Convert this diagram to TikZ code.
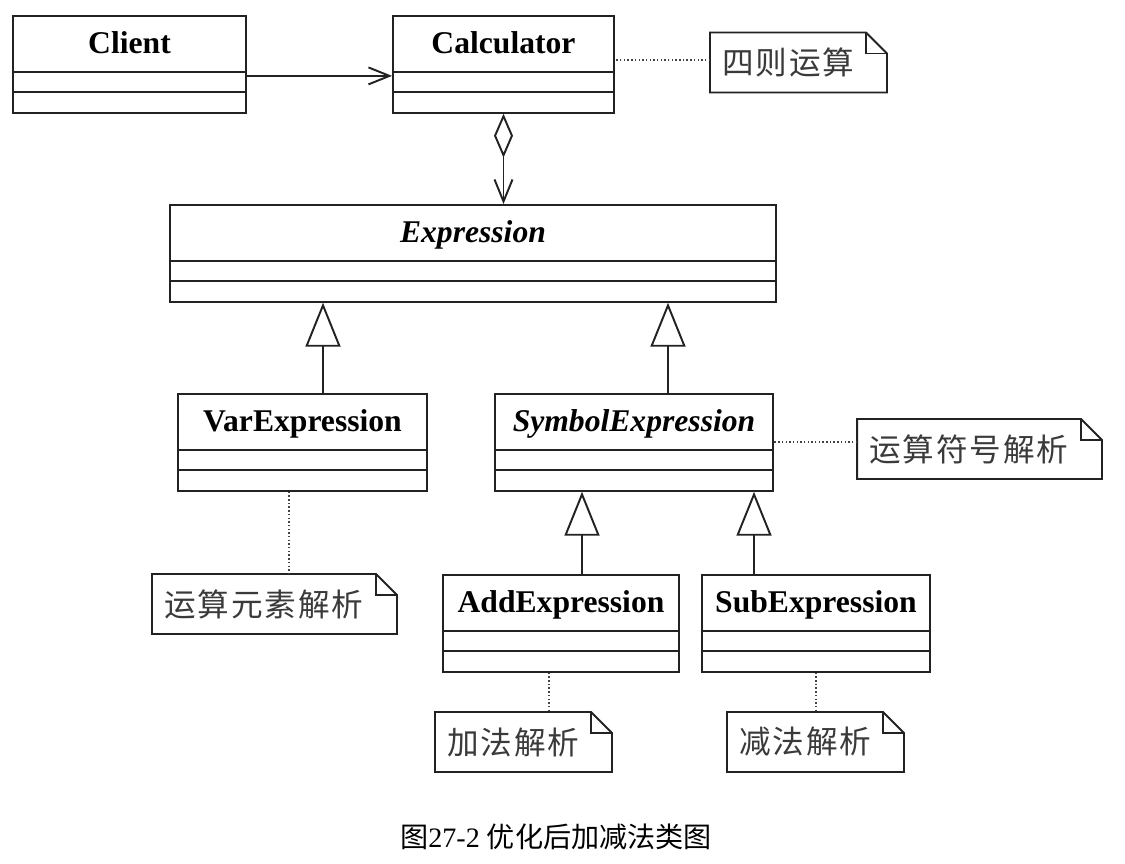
\documentclass[tikz,border=0pt]{standalone}
\usepackage{fontspec}
\setmainfont{Liberation Serif}
\newfontfamily\cjk{Noto Sans CJK SC}
\newfontfamily\notefont[LetterSpace=6]{Noto Sans CJK SC}
\usetikzlibrary{arrows.meta,shapes.multipart}
\definecolor{inkline}{HTML}{222222}
\definecolor{notetext}{HTML}{3A3A3A}
% name compartment, then the two empty compartments
\newcommand{\umlbody}[1]{\rule[-0.34cm]{0pt}{1.08cm}#1\nodepart{two}\rule{0pt}{0.36cm}\nodepart{three}\rule{0pt}{0.38cm}}
\tikzset{
  umlclass/.style={draw=inkline, line width=1.1pt, rectangle split, rectangle split parts=3,
    inner xsep=0pt, inner ysep=0pt, anchor=north, text=black,
    font=\fontsize{18}{20}\selectfont\bfseries},
  abstract/.style={font=\fontsize{18}{20}\selectfont\bfseries\itshape},
  umlnote/.style={inner xsep=0.24cm, inner ysep=0pt, outer sep=0pt, minimum height=1.2cm,
    align=left, text=notetext, font=\notefont\fontsize{18}{20}\selectfont},
  noteedge/.style={draw=inkline, line width=1.1pt, line join=miter},
  noteline/.style={draw=inkline!85, line width=0.7pt, dash pattern=on 0.8pt off 1.3pt},
  assoc/.style={draw=inkline, line width=1.1pt, -{Straight Barb[length=0.42cm,width=0.34cm]}},
  aggr/.style={draw=inkline, line width=1.1pt,
    {Diamond[open,length=0.88cm,width=0.38cm]}-{Straight Barb[length=0.44cm,width=0.36cm]}},
  inherit/.style={draw=inkline, line width=1.1pt, -{Triangle[open,length=0.88cm,width=0.7cm]}},
  caption/.style={font=\fontsize{16}{18}\selectfont, text=black}
}
\begin{document}
\begin{tikzpicture}[x=0.02cm, y=-0.02cm]
  \useasboundingbox (0,0) rectangle (1125,863);

  % classes
  \node[umlclass, minimum width=4.66cm] (client) at (129.5,15) {\umlbody{Client}};
  \node[umlclass, minimum width=4.42cm] (calc) at (503.5,15) {\umlbody{Calculator}};
  \node[umlclass, abstract, minimum width=12.14cm] (expr) at (473,204) {\umlbody{Expression}};
  \node[umlclass, minimum width=4.98cm] (var) at (302.5,393) {\umlbody{VarExpression}};
  \node[umlclass, abstract, minimum width=5.56cm] (sym) at (634,393) {\umlbody{SymbolExpression}};
  \node[umlclass, minimum width=4.72cm] (add) at (561,574) {\umlbody{AddExpression}};
  \node[umlclass, minimum width=4.56cm] (sub) at (816,574) {\umlbody{SubExpression}};

  % notes
  \node[umlnote, text width=3.06cm] (calcnote) at (798.5,62.5) {四则运算};
  \node[umlnote, text width=4.42cm] (symnote) at (979.5,449) {运算符号解析};
  \node[umlnote, text width=4.42cm] (varnote) at (274.5,604) {运算元素解析};
  \node[umlnote, text width=3.06cm] (addnote) at (523.5,742) {加法解析};
  \node[umlnote, text width=3.06cm] (subnote) at (815.5,742) {减法解析};
  \foreach \n in {calcnote,symnote,varnote,addnote,subnote}{
    \draw[noteedge] (\n.north west) -- ([xshift=-0.42cm]\n.north east)
      -- ([yshift=-0.42cm]\n.north east) -- (\n.south east) -- (\n.south west) -- cycle;
    \draw[noteedge] ([xshift=-0.42cm]\n.north east) |- ([yshift=-0.42cm]\n.north east);
  }

  % relations
  \draw[assoc] ([yshift=-0.08cm]client.text split east) -- ([yshift=-0.08cm]calc.text split west);
  \draw[aggr] (calc.south) -- (calc.south |- expr.north);
  \draw[inherit] ([xshift=0.41cm]var.north) -- ([xshift=0.41cm]var.north |- expr.south);
  \draw[inherit] ([xshift=0.68cm]sym.north) -- ([xshift=0.68cm]sym.north |- expr.south);
  \draw[inherit] ([xshift=0.42cm]add.north) -- ([xshift=0.42cm]add.north |- sym.south);
  \draw[inherit] ([xshift=-1.24cm]sub.north) -- ([xshift=-1.24cm]sub.north |- sym.south);

  % note links
  \draw[noteline] ([yshift=0.05cm]calcnote.west) -- ([yshift=0.05cm]calcnote.west -| calc.east);
  \draw[noteline] ([yshift=0.14cm]symnote.west) -- ([yshift=0.14cm]symnote.west -| sym.east);
  \draw[noteline] ([xshift=-0.27cm]var.south) -- ([xshift=-0.27cm]var.south |- varnote.north);
  \draw[noteline] ([xshift=-0.24cm]add.south) -- ([xshift=-0.24cm]add.south |- addnote.north);
  \draw[noteline] (sub.south) -- (sub.south |- subnote.north);

  \node[caption] (fig) at (556,837) {{\cjk 图}27-2 {\cjk 优化后加减法类图}};
\end{tikzpicture}
\end{document}
